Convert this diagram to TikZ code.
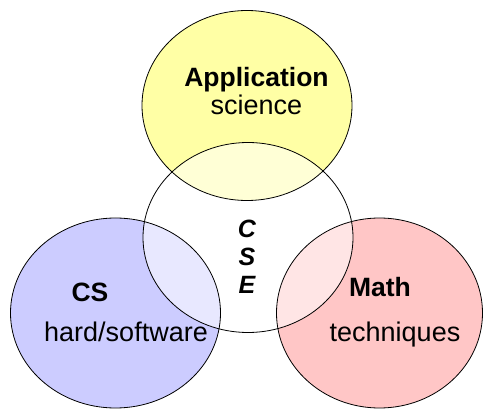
\documentclass[tikz,border=0pt]{standalone}
\usepackage{fontspec}
\setmainfont{Liberation Sans}
\definecolor{appyellow}{RGB}{255,255,165}
\definecolor{csblue}{RGB}{204,204,255}
\definecolor{mathpink}{RGB}{255,198,198}
\tikzset{
  outline/.style={draw=black, line width=0.8pt},
  boldlbl/.style={anchor=base, inner sep=0pt, font=\fontsize{26.5}{30}\selectfont\bfseries},
  reglbl/.style={anchor=base, inner sep=0pt, font=\fontsize{27}{30}\selectfont},
  cselbl/.style={anchor=base, inner sep=0pt, font=\fontsize{25}{28}\selectfont\bfseries\itshape},
}
\begin{document}
\begin{tikzpicture}[x=1pt, y=-1pt]
\useasboundingbox (0,0) rectangle (483,409);
% fills
\fill[appyellow] (247,105.5) ellipse [x radius=105pt, y radius=95pt];
\fill[csblue] (115.5,313) ellipse [x radius=105pt, y radius=95pt];
\fill[mathpink] (379.5,313) ellipse [x radius=103pt, y radius=95pt];
\fill[white, fill opacity=0.55] (248,237.5) ellipse [x radius=105pt, y radius=95pt];
% outlines
\draw[outline] (247,105.5) ellipse [x radius=105pt, y radius=95pt];
\draw[outline] (115.5,313) ellipse [x radius=105pt, y radius=95pt];
\draw[outline] (379.5,313) ellipse [x radius=103pt, y radius=95pt];
\draw[outline] (248,237.5) ellipse [x radius=105pt, y radius=95pt];
% labels
\node[boldlbl] (app) at (256.5,87) {Application};
\node[reglbl] (sci) at (256.5,115) {science};
\node[cselbl] (c) at (247,237.3) {C};
\node[cselbl] (s) at (247,266) {S};
\node[cselbl] (e) at (247,294) {E};
\node[boldlbl] (cs) at (90,302) {CS};
\node[reglbl] (hw) at (126,342) {hard/software};
\node[boldlbl] (math) at (380,297) {Math};
\node[reglbl] (tech) at (395,342) {techniques};
\end{tikzpicture}
\end{document}
